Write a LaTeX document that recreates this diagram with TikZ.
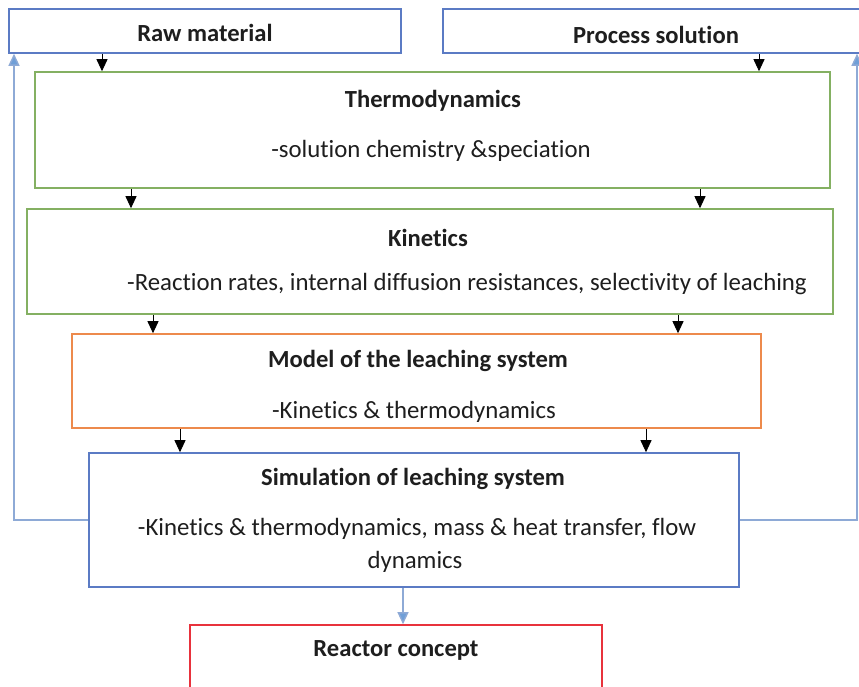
\documentclass[tikz,border=0pt]{standalone}
\usepackage{fontspec}
\setmainfont{Carlito}[Ligatures=NoCommon]
\usetikzlibrary{arrows.meta}
\definecolor{boxblue}{HTML}{5B7BC4}
\definecolor{boxgreen}{HTML}{84B062}
\definecolor{boxorange}{HTML}{ED8A4C}
\definecolor{boxred}{HTML}{E8323C}
\definecolor{fbblue}{HTML}{8EAAD6}
\definecolor{tipblue}{HTML}{6F9FD8}
\definecolor{ink}{HTML}{1E1E1E}
\tikzset{
  box/.style={draw=#1, line width=1.6pt, fill=white, inner sep=0pt},
  title/.style={font=\fontsize{24.6}{29}\selectfont\bfseries, text=ink, inner sep=0pt},
  body/.style={font=\fontsize{24.8}{29}\selectfont, text=ink, inner sep=0pt},
  flow/.style={line width=0.9pt, -{Triangle[length=12pt, width=11pt]}},
  feedback/.style={draw=fbblue, line width=1.4pt, -{Triangle[length=12pt, width=11pt, fill=tipblue]}},
}
\begin{document}
\begin{tikzpicture}[x=1pt, y=-1pt]
\useasboundingbox (0,0) rectangle (859,687);
\fill[white] (0,0) rectangle (859,687);
\clip (0,0) rectangle (859,687);

% boxes
\node[box=boxblue, minimum width=392pt, minimum height=44pt] (raw) at (205,31) {};
\node[box=boxblue, minimum width=426pt, minimum height=44pt] (proc) at (656,31) {};
\node[box=boxgreen, minimum width=795pt, minimum height=116pt] (thermo) at (432.5,130) {};
\node[box=boxgreen, minimum width=806pt, minimum height=105pt] (kin) at (430,261.5) {};
\node[box=boxorange, minimum width=689pt, minimum height=94pt] (model) at (416.5,381) {};
\node[box=boxblue, minimum width=650pt, minimum height=134pt] (sim) at (414,520) {};
\node[box=boxred, minimum width=412pt, minimum height=75pt] (reactor) at (396,662.5) {};

% texts
\node[title] (rawT) at (205,32.5) {Raw material};
\node[title] (procT) at (656,34.5) {Process solution};
\node[title] (thermoT) at (433,100.5) {Thermodynamics};
\node[body] (thermoB) at (431,150.5) {-solution chemistry \&speciation};
\node[title] (kinT) at (428,237.5) {Kinetics};
\node[body] (kinB) at (467,284.5) {-Reaction rates, internal diffusion resistances, selectivity of leaching};
\node[title] (modelT) at (418,360.5) {Model of the leaching system};
\node[body] (modelB) at (414,411.5) {-Kinetics \& thermodynamics};
\node[title] (simT) at (413,478.5) {Simulation of leaching system};
\node[body] (simB1) at (417,528.5) {-Kinetics \& thermodynamics, mass \& heat transfer, flow};
\node[body] (simB2) at (415,561.5) {dynamics};
\node[title] (reactorT) at (396,650.5) {Reactor concept};

% downward flow arrows
\draw[flow] (raw.south -| 102,0) -- (thermo.north -| 102,0);
\draw[flow] (proc.south -| 759,0) -- (thermo.north -| 759,0);
\draw[flow] (thermo.south -| 131,0) -- (kin.north -| 131,0);
\draw[flow] (thermo.south -| 700,0) -- (kin.north -| 700,0);
\draw[flow] (kin.south -| 153,0) -- (model.north -| 153,0);
\draw[flow] (kin.south -| 678,0) -- (model.north -| 678,0);
\draw[flow] (model.south -| 180,0) -- (sim.north -| 180,0);
\draw[flow] (model.south -| 646,0) -- (sim.north -| 646,0);

% simulation to reactor
\draw[feedback] (sim.south -| 403,0) -- (reactor.north -| 403,0);

% feedback loops back to the inputs
\draw[feedback] (sim.west) -| (raw.south -| 14,0);
\draw[feedback] (sim.east) -| (proc.south -| 857,0);
\end{tikzpicture}
\end{document}
